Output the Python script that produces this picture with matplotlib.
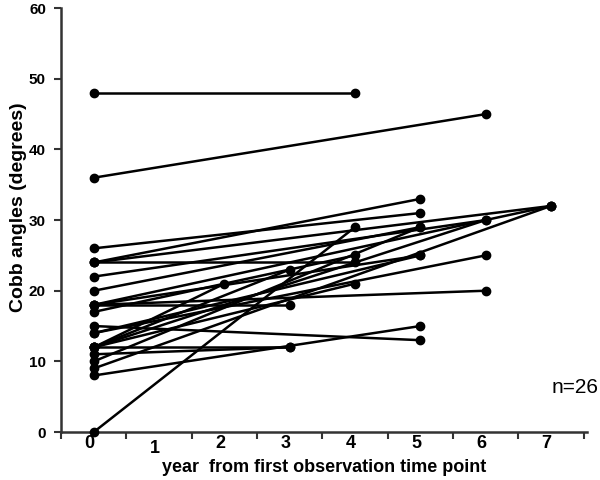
import matplotlib
matplotlib.use("Agg")
import matplotlib.pyplot as plt
import matplotlib.transforms as mtransforms

# Each subject: first observation (year 0) and last observation
start_years = [0] * 26
start_angles = [48, 36, 26, 24, 24, 24, 22, 20, 18, 18, 18, 17, 15,
                14, 12, 12, 12, 12, 11, 10, 9, 8, 0, 12, 18, 14]
end_years = [4, 6, 5, 5, 4, 7, 6, 5, 6, 7, 3, 4, 5,
             5, 3, 4, 3, 6, 3, 5, 7, 5, 4, 2, 5, 6]
end_angles = [48, 45, 31, 33, 24, 32, 30, 29, 20, 32, 18, 25, 13,
              25, 12, 21, 23, 30, 12, 29, 32, 15, 29, 21, 25, 25]

x_tick_labels = ["0", "1", "2", "3", "4", "5", "6", "7"]
y_ticks = [0, 10, 20, 30, 40, 50, 60]
n_label = "n=26"

plt.rcParams['font.family'] = ['Liberation Sans', 'DejaVu Sans']

fig = plt.figure(figsize=(6, 4.8), dpi=100)
ax = fig.add_axes([0.102, 0.1, 0.876, 0.883])

for x0, y0, x1, y1 in zip(start_years, start_angles, end_years, end_angles):
    ax.plot([x0, x1], [y0, y1], color='black', linewidth=1.8,
            marker='o', markersize=6, clip_on=False, zorder=3)

ax.set_xlim(-0.5, 7.55)
ax.set_ylim(0, 60)

ax.set_yticks(y_ticks)
ax.set_yticklabels([str(v) for v in y_ticks], fontsize=11, fontweight='bold')

ax.set_xticks(range(len(x_tick_labels)))
ax.set_xticklabels(x_tick_labels, fontsize=13, fontweight='bold')
ax.tick_params(axis='x', which='major', length=0, pad=2)
ax.set_xticks([k + 0.5 for k in range(-1, 8)], minor=True)
ax.tick_params(axis='x', which='minor', length=5, width=1.5, direction='out',
               color='#333333')
ax.tick_params(axis='y', length=5, width=1.5, direction='out', color='#333333', pad=6)

# shift labels slightly left; the "1" sits a bit lower in the reference
for i, lab in enumerate(ax.get_xticklabels()):
    dy = -4 / 72 if i == 1 else 0
    off = mtransforms.ScaledTranslation(-3 / 72, dy, fig.dpi_scale_trans)
    lab.set_transform(lab.get_transform() + off)

for side in ['top', 'right']:
    ax.spines[side].set_visible(False)
for side in ['left', 'bottom']:
    ax.spines[side].set_linewidth(1.8)
    ax.spines[side].set_color('#333333')

ax.set_xlabel("year  from first observation time point", fontsize=13,
              fontweight='bold', labelpad=1)
ax.set_ylabel("Cobb angles (degrees)", fontsize=14, fontweight='bold', labelpad=4)
ax.yaxis.set_label_coords(-0.066, 0.53)

fig.text(0.997, 0.192, n_label, fontsize=15, ha='right', va='center')

fig.savefig("out.png", dpi=100)
